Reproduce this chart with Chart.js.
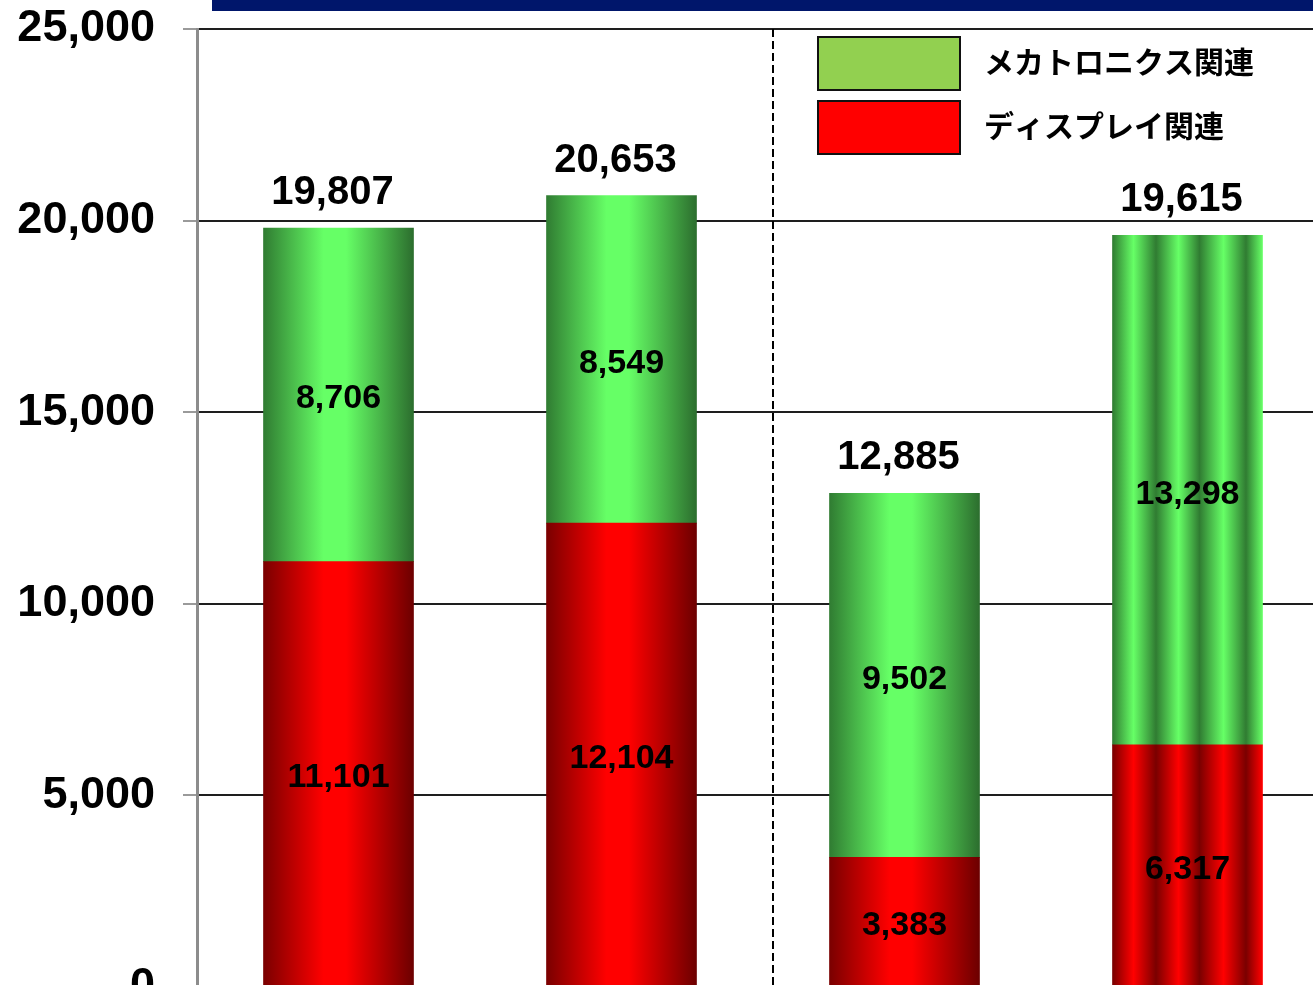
<!DOCTYPE html>
<html>
<head>
<meta charset="utf-8">
<script src="https://cdn.jsdelivr.net/npm/chart.js@4.4.0/dist/chart.umd.min.js"></script>
<style>
  html, body { margin: 0; padding: 0; width: 1313px; height: 985px; overflow: hidden; background: #fff; }
  #wrap { position: absolute; left: 0; top: 0; width: 1330px; height: 1040px; }
</style>
</head>
<body>
<div id="wrap"><canvas id="c" width="1330" height="1040"></canvas></div>
<script>
// Segment sales by period (stacked: display-related at the bottom, mechatronics on top)
const categories = ['P1', 'P2', 'P3', 'P4'];
const seriesNames = ['ディスプレイ関連', 'メカトロニクス関連'];
const displayValues = [11101, 12104, 3383, 6317];
const mechatronicsValues = [8706, 8549, 9502, 13298];
const yTicks = [0, 5000, 10000, 15000, 20000, 25000];

// Bar surface finish per category
const barFinish = ['smooth', 'smooth', 'smooth', 'ribbed'];

const BAR_WIDTH = 150;
const fmt = v => v.toLocaleString('en-US');
const totals = categories.map((_, i) => displayValues[i] + mechatronicsValues[i]);

const redTones = { dark: '#7a0000', bright: '#ff0000', deep: '#6c0000', flat: '#ff0000', legend: '#ff0000' };
const greenTones = { dark: '#307c32', bright: '#66ff66', deep: '#2c6e2e', flat: '#66ff66', legend: '#92d050' };

const smoothStops = [[0, 'dark'], [0.4, 'bright'], [0.55, 'bright'], [1, 'deep']];
const ribbedStops = [[0, 'dark'], [0.14, 'bright'], [0.29, 'dark'], [0.44, 'bright'],
                     [0.58, 'dark'], [0.74, 'bright'], [0.89, 'dark'], [1, 'bright']];

function barFill(tones) {
  return (ctx) => {
    const chart = ctx.chart;
    if (!chart.chartArea || ctx.type !== 'data') return tones.flat;
    const x = chart.scales.x.getPixelForValue(ctx.dataIndex);
    const half = BAR_WIDTH / 2;
    const g = chart.ctx.createLinearGradient(x - half, 0, x + half, 0);
    const stops = barFinish[ctx.dataIndex] === 'ribbed' ? ribbedStops : smoothStops;
    stops.forEach(([p, tone]) => g.addColorStop(p, tones[tone]));
    return g;
  };
}

// Navy banner across the top and the dashed divider between the two period groups
const decorations = {
  id: 'decorations',
  beforeDraw(chart) {
    const { ctx, chartArea } = chart;
    ctx.save();
    ctx.fillStyle = '#00166b';
    ctx.fillRect(chartArea.left + 15, 0, chart.width - chartArea.left - 15, 11);
    ctx.restore();
  },
  beforeDatasetsDraw(chart) {
    const { ctx, chartArea, scales } = chart;
    const x = Math.round(scales.x.getPixelForValue(1.535));
    ctx.save();
    ctx.strokeStyle = '#000';
    ctx.lineWidth = 2;
    ctx.setLineDash([8, 4]);
    ctx.beginPath();
    ctx.moveTo(x, chartArea.top);
    ctx.lineTo(x, chartArea.bottom);
    ctx.stroke();
    ctx.restore();
  }
};

// Value labels inside each segment and the stack totals above the bars
const valueLabels = {
  id: 'valueLabels',
  afterDatasetsDraw(chart) {
    const { ctx, scales } = chart;
    ctx.save();
    ctx.fillStyle = '#000';
    ctx.textAlign = 'center';
    ctx.textBaseline = 'middle';
    ctx.font = 'bold 34px "Liberation Sans", Arial, sans-serif';
    chart.data.datasets.forEach((ds, di) => {
      chart.getDatasetMeta(di).data.forEach((bar, i) => {
        ctx.fillText(fmt(ds.data[i]), bar.x, (bar.y + bar.base) / 2 + 4);
      });
    });
    ctx.font = 'bold 40px "Liberation Sans", Arial, sans-serif';
    const topBars = chart.getDatasetMeta(chart.data.datasets.length - 1).data;
    totals.forEach((t, i) => {
      ctx.fillText(fmt(t), topBars[i].x - 6, scales.y.getPixelForValue(t) - 35);
    });
    ctx.restore();
  }
};

// Legend box in the upper right, mechatronics listed first
const boxLegend = {
  id: 'boxLegend',
  afterDraw(chart) {
    const { ctx } = chart;
    const items = chart.data.datasets.slice().reverse();
    ctx.save();
    items.forEach((ds, k) => {
      const y = 37 + k * 64;
      ctx.fillStyle = ds.legendColor;
      ctx.fillRect(818, y, 142, 53);
      ctx.lineWidth = 2;
      ctx.strokeStyle = '#111';
      ctx.strokeRect(818, y, 142, 53);
      ctx.fillStyle = '#000';
      ctx.font = 'bold 30px "Noto Sans CJK JP", sans-serif';
      ctx.textAlign = 'left';
      ctx.textBaseline = 'middle';
      ctx.fillText(ds.label, 984, y + 25);
    });
    ctx.restore();
  }
};

new Chart(document.getElementById('c'), {
  type: 'bar',
  data: {
    labels: categories,
    datasets: [
      { label: seriesNames[0], data: displayValues, backgroundColor: barFill(redTones),
        legendColor: redTones.legend, barThickness: BAR_WIDTH, borderWidth: 0 },
      { label: seriesNames[1], data: mechatronicsValues, backgroundColor: barFill(greenTones),
        legendColor: greenTones.legend, barThickness: BAR_WIDTH, borderWidth: 0 }
    ]
  },
  options: {
    responsive: false,
    animation: false,
    devicePixelRatio: 1,
    layout: { padding: { top: 29, right: 1, bottom: 53, left: 0 } },
    plugins: { legend: { display: false }, tooltip: { enabled: false } },
    scales: {
      x: { stacked: true, display: false },
      y: {
        stacked: true,
        min: yTicks[0],
        max: yTicks[yTicks.length - 1],
        afterBuildTicks: scale => { scale.ticks = yTicks.map(v => ({ value: v })); },
        afterFit: scale => {
          scale.width = 197;
          // the layout padding already leaves room for the end labels
          scale.paddingTop = 0;
          scale.paddingBottom = 0;
        },
        ticks: {
          padding: 28,
          color: '#000',
          font: { family: '"Liberation Sans", Arial, sans-serif', size: 45, weight: 'bold' },
          callback: v => fmt(v)
        },
        grid: { color: '#1e1e1e', lineWidth: 2, tickColor: '#9a9a9a', tickLength: 14, tickWidth: 2 },
        border: { display: true, color: '#8c8c8c', width: 3 }
      }
    }
  },
  plugins: [decorations, valueLabels, boxLegend]
});
</script>
</body>
</html>
